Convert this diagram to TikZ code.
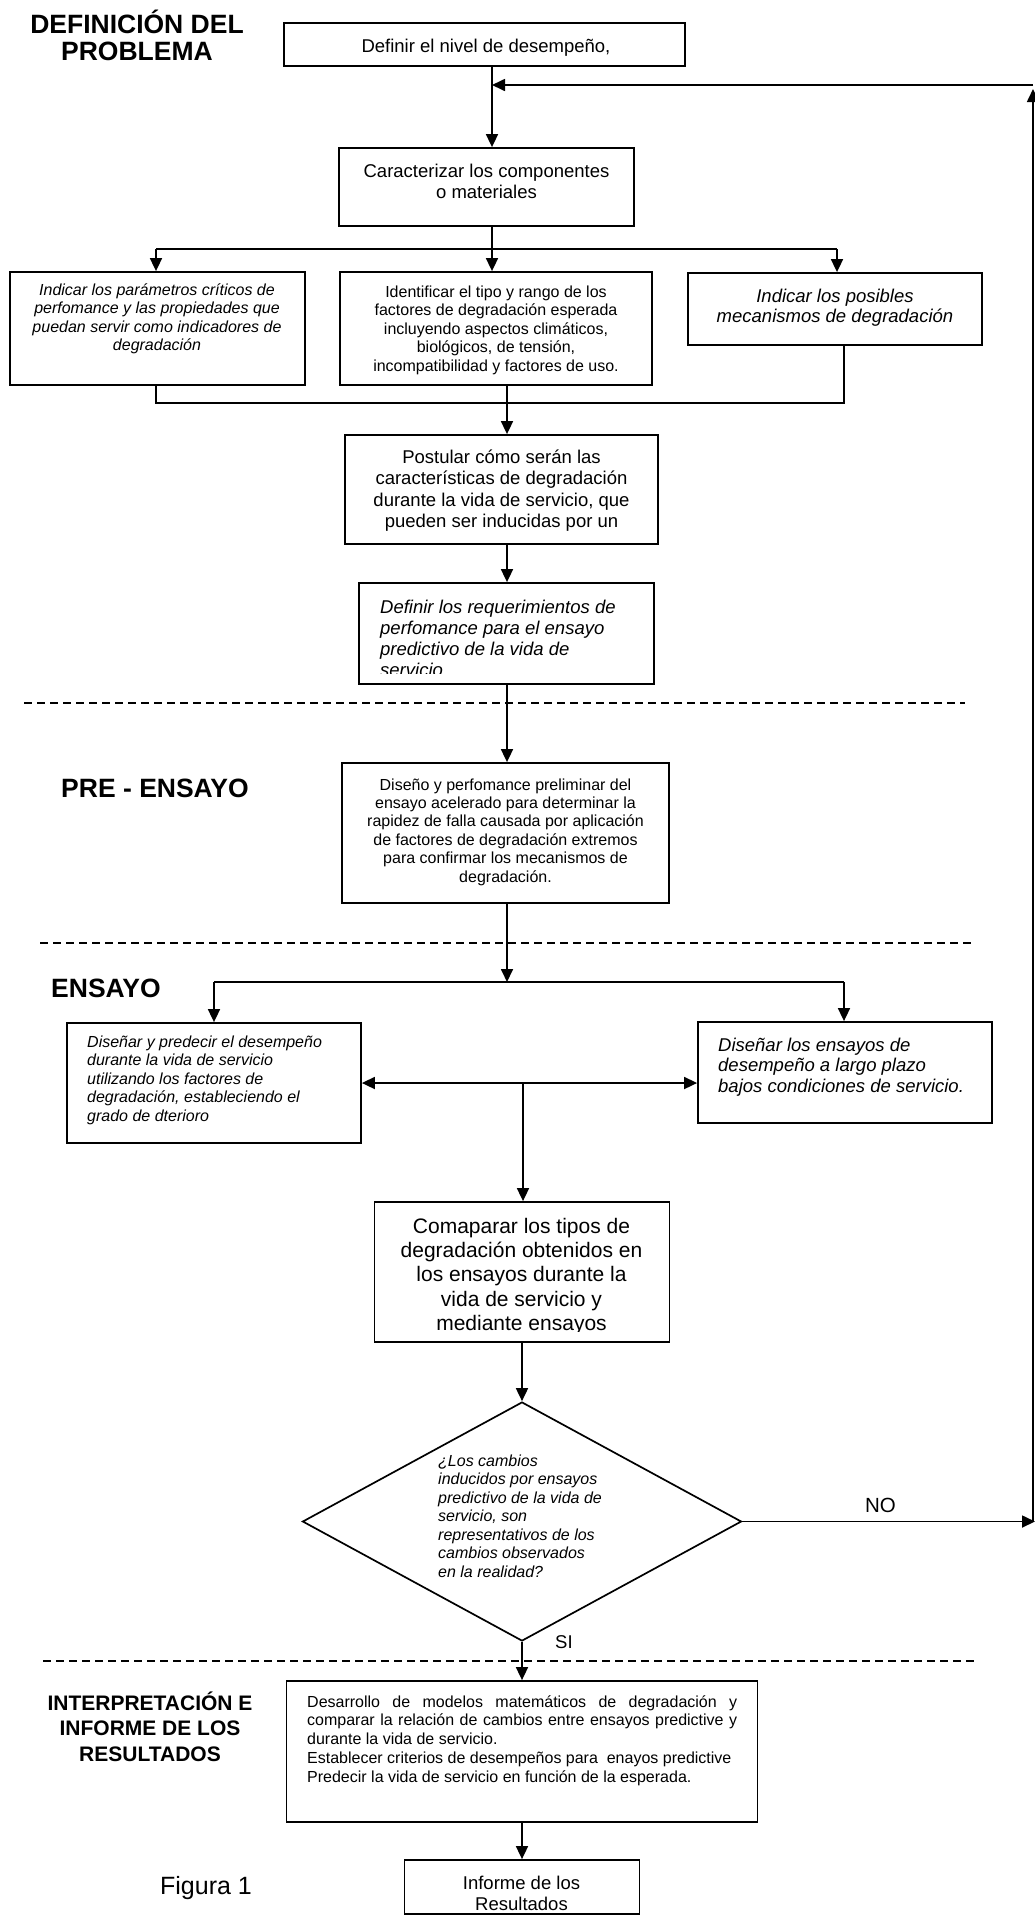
\documentclass[tikz,border=0pt]{standalone}
\usepackage{fontspec}
\setmainfont{Liberation Sans}
\usetikzlibrary{arrows.meta,shapes.geometric}
\hbadness=10000
\hfuzz=50pt
\newcommand\myTS{\rule{0pt}{0.7\baselineskip}}
\tikzset{
  box/.style={draw, line width=1.8pt, inner sep=0pt, rectangle},
  conn/.style={line width=1.7pt},
  arr/.style={conn, -{Triangle[length=13pt,width=12pt]}},
  darr/.style={conn, {Triangle[length=13pt,width=12pt]}-{Triangle[length=13pt,width=12pt]}},
  sepline/.style={line width=1.7pt, dash pattern=on 8pt off 5pt},
  txt/.style={inner sep=0pt},
  fbig/.style={font=\fontsize{18.5}{21.5}\selectfont},
  fsmall/.style={font=\fontsize{16}{18.5}\selectfont},
  fsmallit/.style={font=\fontsize{16}{18.5}\selectfont\itshape},
  ftitle/.style={font=\fontsize{26.5}{27}\selectfont\bfseries}
}
\begin{document}
\begin{tikzpicture}[x=1pt,y=-1pt]
\fill[white] (0,0) rectangle (1035,1915);
\useasboundingbox (0,0) rectangle (1035,1915);

% separators
\draw[sepline] (24,703) -- (965,703);
\draw[sepline] (40,943) -- (974,943);
\draw[sepline] (43,1661) -- (978,1661);

% titles
\node[txt, ftitle, align=center, anchor=north] (h1) at (137,14.1) {\myTS\smash{DEFINICIÓN DEL}\\PROBLEMA};
\node[txt, ftitle, anchor=base] (h2) at (155,797) {PRE - ENSAYO};
\node[txt, ftitle, anchor=base west] (h3) at (51,997) {ENSAYO};
\node[txt, font=\fontsize{21}{25.5}\selectfont\bfseries, align=center, anchor=north] (h4) at (150,1692.2) {\myTS\smash{INTERPRETACIÓN E}\\INFORME DE LOS\\RESULTADOS};
\node[txt, font=\fontsize{25}{28}\selectfont, anchor=base] (fig) at (206,1894) {Figura 1};

% boxes
\node[box, minimum width=401pt, minimum height=43pt] (b1) at (484.5,44.5) {};
\node[box, minimum width=295pt, minimum height=78pt] (b2) at (486.5,187) {};
\node[box, minimum width=295pt, minimum height=113pt] (b3a) at (157.5,328.5) {};
\node[box, minimum width=312pt, minimum height=113pt] (b3b) at (496,328.5) {};
\node[box, minimum width=294pt, minimum height=72pt] (b3c) at (835,309) {};
\node[box, minimum width=313pt, minimum height=109pt] (bpost) at (501.5,489.5) {};
\node[box, minimum width=295pt, minimum height=101pt] (breq) at (506.5,633.5) {};
\node[box, minimum width=327pt, minimum height=140pt] (bdis) at (505.5,833) {};
\node[box, minimum width=294pt, minimum height=120pt] (bL) at (214,1083) {};
\node[box, minimum width=294pt, minimum height=101pt] (bR) at (845,1072.5) {};
\node[box, minimum width=295pt, minimum height=140pt] (bcomp) at (522,1272) {};
\node[draw, diamond, line width=1.7pt, minimum width=439pt, minimum height=239pt, inner sep=0pt] (dm) at (522,1521.5) {};
\node[box, minimum width=471pt, minimum height=141pt] (bdes) at (522,1751.5) {};
\node[box, minimum width=235pt, minimum height=54pt] (binf) at (522,1887) {};

% texts
\node[txt, fbig, anchor=base] (t1) at (486,52) {Definir el nivel de desempeño,};
\node[txt, fbig, align=center, anchor=north] (t2) at (486.5,162) {\myTS Caracterizar los componentes\\o materiales};
\node[txt, fsmallit, align=center, anchor=north] (t3a) at (157,282) {\myTS Indicar los parámetros críticos de\\perfomance y las propiedades que\\puedan servir como indicadores de\\degradación};
\node[txt, fsmall, align=center, anchor=north] (t3b) at (496,284) {\myTS Identificar el tipo y rango de los\\factores de degradación esperada\\incluyendo aspectos climáticos,\\biológicos, de tensión,\\incompatibilidad y factores de uso.};
\node[txt, font=\fontsize{18.5}{20.5}\selectfont\itshape, align=center, anchor=north] (t3c) at (835,287.6) {\myTS Indicar los posibles\\mecanismos de degradación};
\node[txt, fbig, align=center, anchor=north] (tpost) at (501.5,448) {\myTS Postular cómo serán las\\características de degradación\\durante la vida de servicio, que\\pueden ser inducidas por un};
\begin{scope}
\clip (359,583) rectangle (654,673);
\node[txt, font=\fontsize{18.5}{21}\selectfont\itshape, align=left, anchor=north west] (treq) at (380,598.3) {\myTS Definir los requerimientos de\\perfomance para el ensayo\\predictivo de la vida de\\servicio};
\end{scope}
\node[txt, font=\fontsize{16}{18.4}\selectfont, align=center, anchor=north] (tdis) at (505.5,777.1) {\myTS Diseño y perfomance preliminar del\\ensayo acelerado para determinar la\\rapidez de falla causada por aplicación\\de factores de degradación extremos\\para confirmar los mecanismos de\\degradación.};
\node[txt, fsmallit, align=left, anchor=north west] (tL) at (87,1034) {\myTS Diseñar y predecir el desempeño\\durante la vida de servicio\\utilizando los factores de\\degradación, estableciendo el\\grado de dterioro};
\node[txt, font=\fontsize{18.5}{20.5}\selectfont\itshape, align=left, anchor=north west] (tR) at (718,1036.6) {\myTS Diseñar los ensayos de\\desempeño a largo plazo\\bajos condiciones de servicio.};
\begin{scope}
\clip (374,1202) rectangle (669,1331.5);
\node[txt, font=\fontsize{21}{24.3}\selectfont, align=center, anchor=north] (tcomp) at (521.5,1216) {\myTS Comaparar los tipos de\\degradación obtenidos en\\los ensayos durante la\\vida de servicio y\\mediante ensayos};
\end{scope}
\node[txt, fsmallit, align=left, anchor=north west] (tdm) at (438,1453) {\myTS ¿Los cambios\\inducidos por ensayos\\predictivo de la vida de\\servicio, son\\representativos de los\\cambios observados\\en la realidad?};
\node[txt, font=\fontsize{16}{18.8}\selectfont, text width=430pt, align=justify, anchor=north west] (tdes) at (307,1693.8) {\parindent=0pt\myTS Desarrollo de modelos matemáticos de degradación y\linebreak comparar la relación de cambios entre ensayos predictive y\linebreak durante la vida de servicio.\par Establecer criterios de desempeños para\ \ enayos predictive\par Predecir la vida de servicio en función de la esperada.\par};
\node[txt, font=\fontsize{18.5}{21}\selectfont, align=center, anchor=north] (tinf) at (521.5,1874.3) {\myTS Informe de los\\Resultados};
\node[txt, font=\fontsize{20.5}{23}\selectfont, anchor=base] (no) at (880.5,1512) {NO};
\node[txt, fbig, anchor=base west] (si) at (555,1648) {SI};

% coordinates
\coordinate (xa) at (492,0);
\coordinate (xb) at (507,0);
\coordinate (fbL) at (492,85);
\coordinate (fbR) at (1033,85);
\coordinate (rBot) at (1033,1521.5);
\coordinate (rTop) at (1033,89);
\coordinate (noEnd) at (1035,1521.5);
\coordinate (br1L) at (156,249);
\coordinate (br1M) at (492,249);
\coordinate (br1R) at (837,249);
\coordinate (mgL) at (156,403);
\coordinate (mgR) at (844,403);
\coordinate (br2L) at (214,982);
\coordinate (br2M) at (507,982);
\coordinate (br2R) at (844,982);
\coordinate (dY) at (0,1083);
\coordinate (cmp) at (523,1083);

% connectors
\draw[arr] (b1.south -| xa) -- (b2.north -| xa);
\draw[arr] (fbR) -- (fbL);
\draw[conn] (b2.south -| xa) -- (br1M);
\draw[conn] (br1L) -- (br1R);
\draw[arr] (br1L) -- (b3a.north -| br1L);
\draw[arr] (br1M) -- (b3b.north -| br1M);
\draw[arr] (br1R) -- (b3c.north -| br1R);
\draw[conn] (b3a.south -| mgL) -- (mgL) -- (mgR) -- (b3c.south -| mgR);
\draw[arr] (b3b.south -| xb) -- (bpost.north -| xb);
\draw[arr] (bpost.south -| xb) -- (breq.north -| xb);
\draw[arr] (breq.south -| xb) -- (bdis.north -| xb);
\draw[arr] (bdis.south -| xb) -- (br2M);
\draw[conn] (br2L) -- (br2R);
\draw[arr] (br2L) -- (bL.north -| br2L);
\draw[arr] (br2R) -- (bR.north -| br2R);
\draw[darr] (bL.east |- dY) -- (bR.west |- dY);
\draw[arr] (cmp) -- (bcomp.north -| cmp);
\draw[arr] (bcomp.south) -- (dm.north);
\draw[arr] (dm.east) -- (noEnd);
\draw[arr] (rBot) -- (rTop);
\draw[arr] (dm.south) -- (bdes.north);
\draw[arr] (bdes.south) -- (binf.north);
\end{tikzpicture}
\end{document}
